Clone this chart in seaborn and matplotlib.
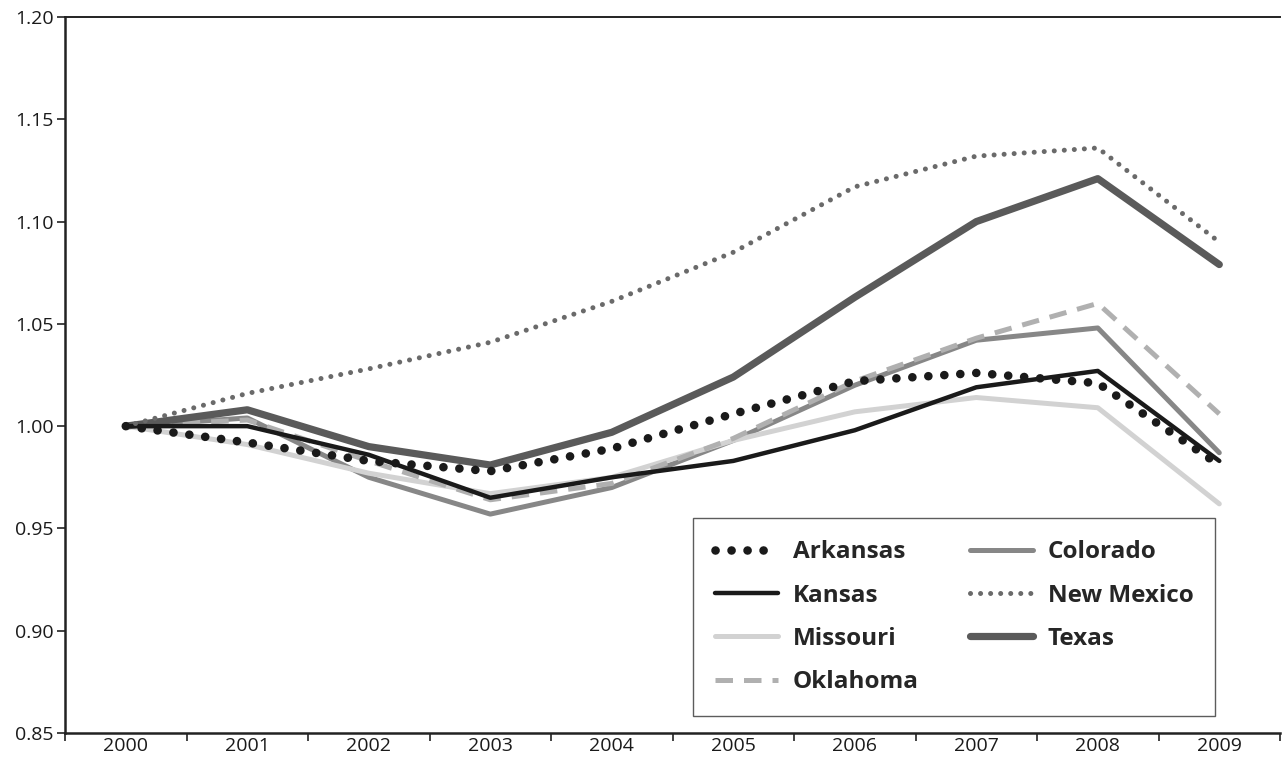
import matplotlib
matplotlib.use("Agg")
import matplotlib.pyplot as plt
import seaborn as sns
import pandas as pd
from matplotlib.ticker import FixedLocator

years = ["2000", "2001", "2002", "2003", "2004", "2005", "2006", "2007", "2008", "2009"]
arkansas = [1.000, 0.992, 0.983, 0.978, 0.989, 1.006, 1.022, 1.026, 1.021, 0.981]
kansas = [1.000, 1.000, 0.986, 0.965, 0.975, 0.983, 0.998, 1.019, 1.027, 0.983]
missouri = [1.000, 0.991, 0.977, 0.967, 0.975, 0.993, 1.007, 1.014, 1.009, 0.962]
oklahoma = [1.000, 1.003, 0.983, 0.964, 0.972, 0.994, 1.022, 1.043, 1.060, 1.006]
colorado = [1.000, 1.004, 0.975, 0.957, 0.970, 0.993, 1.020, 1.042, 1.048, 0.987]
new_mexico = [1.000, 1.016, 1.028, 1.041, 1.061, 1.085, 1.117, 1.132, 1.136, 1.090]
texas = [1.000, 1.008, 0.990, 0.981, 0.997, 1.024, 1.063, 1.100, 1.121, 1.079]

sns.set_style("white")
plt.rcParams['font.family'] = ['Open Sans', 'DejaVu Sans']

fig = plt.figure(figsize=(12.83, 7.64), dpi=100)
ax = fig.add_axes([0.0507, 0.0406, 0.9470, 0.9371])

x = list(range(len(years)))
series = [
    ("Arkansas", arkansas, dict(color="#1a1a1a", lw=6.2, ls=(0, (0.01, 1.85)), dash_capstyle="round"), 5),
    ("Kansas", kansas, dict(color="#1a1a1a", lw=3.2, ls="-"), 4),
    ("Missouri", missouri, dict(color="#d2d2d2", lw=3.6, ls="-"), 2),
    ("Oklahoma", oklahoma, dict(color="#b0b0b0", lw=3.6, ls=(0, (3.5, 2.2))), 3),
    ("Colorado", colorado, dict(color="#878787", lw=3.6, ls="-"), 1),
    ("New Mexico", new_mexico, dict(color="#6a6a6a", lw=3.6, ls=(0, (0.01, 2.0)), dash_capstyle="round"), 4),
    ("Texas", texas, dict(color="#5a5a5a", lw=5.2, ls="-"), 3),
]
for name, vals, style, z in series:
    df = pd.DataFrame({"x": x, "v": vals})
    sns.lineplot(data=df, x="x", y="v", ax=ax, label=name, color=style["color"],
                 linewidth=style["lw"], linestyle=style["ls"], zorder=z,
                 dash_capstyle=style.get("dash_capstyle", "butt"),
                 solid_capstyle="round")

ax.set_xlim(-0.5, 9.5)
ax.set_ylim(0.85, 1.20)
ax.set_yticks([0.85, 0.90, 0.95, 1.00, 1.05, 1.10, 1.15, 1.20])
ax.set_yticklabels(["0.85", "0.90", "0.95", "1.00", "1.05", "1.10", "1.15", "1.20"])
ax.xaxis.set_major_locator(FixedLocator([i - 0.5 for i in range(len(years) + 1)]))
ax.xaxis.set_major_formatter(plt.NullFormatter())
ax.xaxis.set_minor_locator(FixedLocator(x))
ax.set_xticklabels(years, minor=True)
ax.tick_params(axis="x", which="major", direction="out", length=6, width=1.2, color="#222222", bottom=True)
ax.tick_params(axis="x", which="minor", length=0, labelsize=14, pad=3, labelcolor="#1a1a1a", bottom=True)
ax.tick_params(axis="y", direction="out", length=6, width=1.2, color="#222222", labelsize=14, pad=2, left=True, labelcolor="#1a1a1a")
ax.set_xlabel("")
ax.set_ylabel("")
for side in ["left", "bottom"]:
    ax.spines[side].set_color("#222222")
    ax.spines[side].set_linewidth(1.8)
ax.spines["top"].set_color("#222222")
ax.spines["top"].set_linewidth(1.4)
ax.spines["right"].set_visible(False)

leg = ax.legend(ncol=2, loc="upper left", bbox_to_anchor=(0.517, 0.300),
                frameon=True, fancybox=False, handlelength=2.6,
                labelspacing=0.8, columnspacing=2.1, borderpad=0.9, borderaxespad=0,
                handletextpad=0.6, prop={"weight": "bold", "size": 17.5})
leg.get_frame().set_edgecolor("#333333")
leg.get_frame().set_linewidth(1.0)

fig.savefig("out.png", dpi=100)
